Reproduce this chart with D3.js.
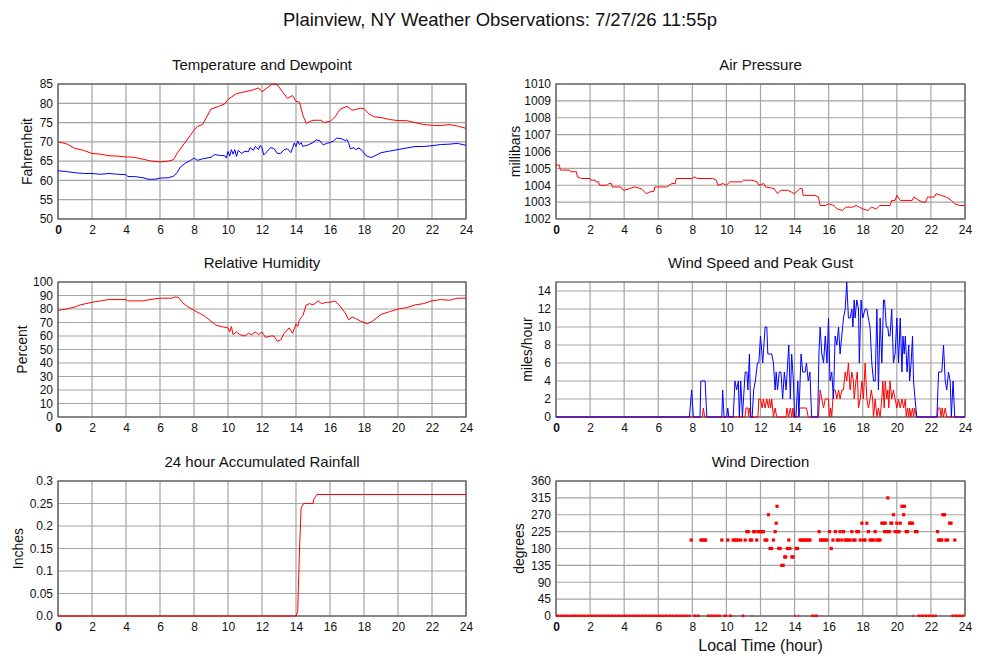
<html lang="en">
<head>
<style>
  body { margin: 0; background: #fff; }
  text { font-family: "Liberation Sans", Arial, sans-serif; fill: #111; }
</style>
</head>
<body>
<script type='text/javascript' src='https://d3js.org/d3.v7.min.js'></script>
<script>
    // ---- data: [hour, value] ----
    var hourTicks = [0, 2, 4, 6, 8, 10, 12, 14, 16, 18, 20, 22, 24];

    var temperature = [
        [0, 70], [0.5, 69.5], [1, 68.3], [1.5, 67.8], [2, 67], [2.5, 66.8], [3, 66.4], [3.5, 66.3],
        [4, 66.1], [4.5, 66], [5, 65.5], [5.5, 65], [6, 64.8], [6.5, 65], [6.8, 65.4], [7, 67],
        [7.5, 70], [8, 73], [8.2, 74], [8.5, 74.5], [9, 78.5], [9.5, 79.3], [9.8, 79.8], [10, 81],
        [10.5, 82.5], [11, 83], [11.5, 83.5], [11.8, 84], [12, 83], [12.3, 84], [12.6, 85], [12.9, 84.8],
        [13.2, 83], [13.5, 81.3], [13.8, 82], [14, 80.5], [14.2, 80.3], [14.4, 77], [14.6, 74.8],
        [14.8, 75.2], [15, 75.6], [15.5, 75.6], [15.6, 75], [16, 75.3], [16.3, 76.5], [16.6, 78.5],
        [17, 79.2], [17.3, 78.2], [17.8, 78.7], [18, 78.6], [18.3, 77.2], [18.6, 76.5], [19, 76.3],
        [19.5, 75.8], [20, 75.5], [20.5, 75.5], [21, 75], [21.5, 74.5], [22, 74.3], [22.5, 74.2],
        [23, 74.5], [23.5, 74.1], [24, 73.5]
    ];
    var dewpoint = [
        [0, 62.5], [0.5, 62.3], [1, 62], [1.5, 61.8], [2, 61.8], [2.5, 61.6], [3, 61.8], [3.5, 61.6],
        [4, 61.5], [4.1, 61], [4.5, 61], [5, 60.7], [5.3, 60.3], [5.7, 60.3], [6, 60.6], [6.5, 60.7],
        [6.8, 61.1], [7, 62], [7.2, 63.5], [7.5, 64.5], [7.8, 65.2], [8, 65.8], [8.2, 65.2], [8.5, 65.6],
        [9, 66], [9.2, 66.7], [9.5, 66.5], [9.8, 66.4], [9.9, 65.8], [10, 67.5], [10.1, 66.3], [10.2, 68],
        [10.3, 66.8], [10.4, 68], [10.5, 66.2], [10.6, 67.8], [10.8, 67], [11, 67.6], [11.2, 67.4],
        [11.3, 68.5], [11.5, 67.8], [11.6, 68.8], [11.8, 68], [11.9, 69.1], [12, 68.5], [12.1, 66.6],
        [12.3, 67.5], [12.5, 68.5], [12.7, 68.3], [12.9, 67], [13.1, 67], [13.3, 68], [13.5, 68.2],
        [13.7, 67.2], [13.9, 69.7], [14, 68.8], [14.1, 70.2], [14.2, 69.3], [14.3, 69.8], [14.4, 68.8],
        [14.7, 69.2], [15, 69.8], [15.2, 70.5], [15.4, 70.3], [15.6, 69.2], [15.8, 69.6], [16, 69.8],
        [16.2, 70.2], [16.4, 71], [16.7, 70.8], [16.9, 70.3], [17, 70.6], [17.1, 69.6], [17.2, 68.2],
        [17.4, 68.5], [17.5, 68], [17.7, 68.4], [17.9, 67.7], [18.1, 66.5], [18.4, 65.9], [18.6, 66.3],
        [19, 67.2], [19.5, 67.6], [20, 68], [20.5, 68.4], [21, 68.8], [21.5, 68.8], [22, 69],
        [22.5, 69.3], [23, 69.4], [23.5, 69.6], [24, 69.1]
    ];
    var pressure = [
        [0, 1005.2], [0.2, 1005.2], [0.25, 1004.9], [0.8, 1004.9], [0.85, 1004.8], [1.2, 1004.8],
        [1.25, 1004.5], [1.5, 1004.4], [2, 1004.4], [2.05, 1004.3], [2.3, 1004.3], [2.35, 1004.2],
        [2.5, 1004.2], [2.55, 1004], [3, 1004], [3.1, 1004.1], [3.25, 1004.1], [3.3, 1003.9],
        [3.8, 1003.9], [3.85, 1003.8], [4, 1003.7], [4.3, 1003.8], [4.6, 1003.9], [5, 1003.8],
        [5.3, 1003.5], [5.5, 1003.6], [5.75, 1003.65], [5.8, 1003.9], [6.5, 1003.9], [6.8, 1004.1],
        [7, 1004.1], [7.05, 1004.4], [8, 1004.4], [8.1, 1004.5], [8.3, 1004.4], [9.2, 1004.4],
        [9.4, 1004.3], [9.5, 1004], [9.8, 1004.1], [10, 1004], [10.2, 1004.2], [10.9, 1004.2],
        [11, 1004.3], [11.5, 1004.3], [11.8, 1004.2], [11.9, 1004], [12.2, 1004.1], [12.3, 1003.9],
        [12.8, 1003.8], [13, 1003.5], [13.2, 1003.7], [13.6, 1003.7], [13.8, 1003.6], [14, 1003.5],
        [14.3, 1003.8], [14.45, 1003.8], [14.5, 1003.4], [15.2, 1003.4], [15.4, 1003.3],
        [15.5, 1002.8], [15.8, 1002.8], [16, 1002.9], [16.3, 1002.8], [16.5, 1002.6], [16.8, 1002.5],
        [17, 1002.7], [17.4, 1002.7], [17.6, 1002.8], [17.8, 1002.7], [18, 1002.6], [18.3, 1002.5],
        [18.5, 1002.7], [18.8, 1002.6], [19, 1002.8], [19.6, 1002.8], [19.7, 1003.1], [19.9, 1003.1],
        [20, 1003.4], [20.2, 1003.1], [20.9, 1003.1], [21, 1003.3], [21.3, 1003.1], [21.5, 1003],
        [21.7, 1003], [21.8, 1003.3], [22.2, 1003.3], [22.3, 1003.5], [22.6, 1003.4], [22.9, 1003.3],
        [23.2, 1003.1], [23.4, 1002.9], [23.7, 1002.8], [24, 1002.8]
    ];
    var humidity = [
        [0, 79], [0.5, 80], [1, 81.5], [1.3, 83], [2, 85], [2.5, 86], [3, 87], [4, 87], [4.1, 86],
        [5, 86], [5.4, 87], [6, 88], [6.7, 88], [6.9, 89], [7.1, 88.5], [7.3, 85], [7.6, 82], [8, 79],
        [8.3, 77], [8.6, 75], [9, 71], [9.3, 68], [9.6, 67], [10, 66], [10.1, 63], [10.2, 67],
        [10.3, 61], [10.5, 63], [10.7, 61], [11, 60], [11.2, 62], [11.4, 61], [11.6, 63], [11.8, 61],
        [12, 63], [12.1, 61], [12.2, 59], [12.5, 60], [12.7, 60], [12.8, 58], [12.9, 56], [13.1, 57],
        [13.3, 62], [13.6, 66], [13.8, 62], [14, 69], [14.1, 67], [14.2, 72], [14.4, 75], [14.6, 83],
        [14.8, 84], [15, 83], [15.3, 86], [15.5, 84], [15.8, 85], [16, 85], [16.3, 86], [16.6, 82],
        [16.9, 77], [17.1, 72], [17.3, 74], [17.5, 73], [17.8, 71], [18, 70], [18.2, 69], [18.5, 71],
        [19, 76], [19.5, 78], [20, 80], [20.5, 81], [21, 83], [21.5, 84], [22, 86], [22.5, 87],
        [23, 86.5], [23.2, 87], [23.5, 88], [24, 88]
    ];
    var gust = [
        [0, 0], [7.83, 0], [7.96, 3], [8.06, 0], [8.45, 0], [8.5, 4], [8.75, 4], [8.85, 0], [9.73, 0],
        [9.78, 3], [9.86, 0], [10.02, 0], [10.08, 1], [10.14, 0], [10.4, 0], [10.5, 4], [10.6, 3],
        [10.7, 4], [10.76, 0], [10.84, 4], [10.94, 0], [11.1, 5], [11.2, 5], [11.26, 3], [11.35, 7],
        [11.43, 0], [11.5, -0.3], [11.6, 3], [11.7, 4], [11.82, 6], [11.9, 6], [12, 9], [12.13, 6],
        [12.27, 10], [12.37, 10], [12.43, 7], [12.66, 7], [12.76, 6], [12.86, 3], [12.92, 5],
        [13.0, 3], [13.1, 5], [13.2, 5], [13.3, 2], [13.4, 5], [13.5, 3], [13.66, 8], [13.75, 2],
        [13.83, 7], [13.93, 4], [14.0, 0], [14.08, 0], [14.19, 4], [14.25, 0], [14.38, 7], [14.48, 5],
        [14.62, 5], [14.7, 6], [14.8, 4], [14.9, 5], [15.0, 0], [15.36, 0], [15.43, 7], [15.5, 10],
        [15.6, 7], [15.7, 6], [15.8, 9], [15.9, 6], [15.99, 11], [16.08, 4], [16.18, 5], [16.28, 2],
        [16.38, 9], [16.48, 8], [16.58, 10], [16.67, 7], [16.77, 9], [16.87, 11], [16.97, 12],
        [17.06, 15], [17.16, 11], [17.26, 11], [17.36, 12], [17.42, 10], [17.5, 13], [17.55, 11],
        [17.65, 13], [17.75, 12], [17.8, 6], [17.9, 13], [18.0, 11], [18.14, 12], [18.24, 12],
        [18.33, 11], [18.43, 10], [18.53, 6], [18.63, 4], [18.73, 4], [18.83, 12], [18.92, 3],
        [19.02, 11], [19.12, 6], [19.22, 13], [19.28, 13], [19.38, 10], [19.47, 10], [19.52, 9],
        [19.6, 9], [19.7, 12], [19.8, 6], [19.9, 7], [20.0, 11], [20.1, 6], [20.2, 11], [20.3, 5],
        [20.36, 9], [20.43, 7], [20.5, 9], [20.6, 5], [20.7, 8], [20.75, 4], [20.84, 6], [20.92, 9],
        [20.98, 4], [21.07, 2], [21.17, 0], [22.35, 0], [22.45, 5], [22.64, 5], [22.74, 8],
        [22.84, 4], [22.93, 3], [23.03, 5], [23.13, 4], [23.2, 0], [23.3, 4], [23.4, 0], [24, 0]
    ];
    var speed = [
        [0, 0], [8.58, 0], [8.65, 1], [8.72, 0], [11.1, 0], [11.15, 1], [11.26, 1], [11.3, 0],
        [11.35, 1], [11.43, 0], [11.85, 0], [11.9, 2], [12.0, 2], [12.1, 1], [12.17, 2], [12.27, 1],
        [12.37, 2], [12.47, 1], [12.53, 2], [12.6, 1], [12.66, 2], [12.76, 0], [12.86, 1], [12.95, 0],
        [13.5, 0], [13.55, 1], [13.65, 0], [13.75, 1], [13.84, 0], [13.9, 1], [13.95, 0], [14.25, 0],
        [14.3, 1], [14.7, 1], [14.8, 0], [15.4, 0], [15.5, 3], [15.6, 2], [15.7, 1], [15.8, 2],
        [15.9, 2], [15.99, 2], [16.05, 0], [16.12, 1], [16.18, 0], [16.28, 3], [16.38, 3], [16.48, 2],
        [16.58, 3], [16.67, 2], [16.77, 3], [16.87, 3], [16.97, 5], [17.06, 4], [17.16, 6], [17.26, 3],
        [17.36, 5], [17.45, 4], [17.5, 2], [17.6, 4], [17.68, 5], [17.75, 1], [17.85, 2], [17.95, 4],
        [18.04, 2], [18.14, 6], [18.24, 2], [18.33, 1], [18.43, 2], [18.5, 3], [18.58, 2], [18.63, 0],
        [18.73, 2], [18.83, 0], [18.92, 1], [19.02, 0], [19.12, 2], [19.18, 4], [19.26, 1],
        [19.32, 4], [19.41, 2], [19.47, 3], [19.53, 1], [19.6, 4], [19.7, 2], [19.8, 3], [19.9, 2],
        [20.0, 1], [20.1, 2], [20.2, 1], [20.3, 2], [20.4, 1], [20.5, 2], [20.55, 0], [20.63, 1],
        [20.7, 0], [20.75, 1], [20.82, 0], [20.92, 1], [20.98, 0], [21.04, 1], [21.15, 0],
        [22.38, 0], [22.42, 1], [22.53, 1], [22.6, 0], [22.66, 1], [22.74, 0], [22.84, 1],
        [22.93, 0], [24, 0]
    ];
    var rainfall = [
        [0, 0], [14.0, 0], [14.1, 0.01], [14.2, 0.14], [14.3, 0.24], [14.45, 0.25], [15.0, 0.25],
        [15.05, 0.26], [15.15, 0.265], [15.23, 0.27], [24, 0.27]
    ];
    // hours with no wind (direction recorded as 0): [from, to]
    var calmPeriods = [
        [0, 7.9], [8.06, 8.45], [8.85, 9.7], [9.82, 10.05], [10.15, 10.35], [10.9, 11.05],
        [11.48, 11.52], [13.98, 14.05], [14.2, 14.25], [14.98, 15.38], [20.94, 21.0],
        [21.22, 22.35], [23.2, 24]
    ];
    var direction = [
        [7.93, 202.5], [8.5, 202.5], [8.6, 202.5], [8.7, 202.5], [8.78, 202.5], [9.73, 202.5],
        [10.08, 202.5], [10.4, 202.5], [10.5, 202.5], [10.6, 202.5], [10.7, 202.5], [10.84, 202.5],
        [11.1, 202.5], [11.2, 225], [11.28, 225], [11.4, 202.5], [11.48, 202.5], [11.6, 225],
        [11.68, 225], [11.78, 202.5], [11.88, 225], [11.97, 225], [12.05, 225], [12.17, 225],
        [12.27, 202.5], [12.37, 202.5], [12.47, 270], [12.56, 180], [12.65, 180], [12.76, 202.5],
        [12.86, 225], [12.92, 247.5], [12.97, 292.5], [13.07, 180], [13.15, 180], [13.25, 135],
        [13.33, 135], [13.42, 157.5], [13.48, 157.5], [13.58, 180], [13.66, 202.5], [13.72, 180],
        [13.84, 157.5], [13.92, 157.5], [14.1, 180], [14.17, 180], [14.32, 202.5], [14.42, 202.5],
        [14.52, 202.5], [14.62, 202.5], [14.72, 202.5], [14.82, 202.5], [14.9, 202.5],
        [15.44, 225], [15.52, 202.5], [15.6, 202.5], [15.7, 202.5], [15.8, 202.5], [15.9, 202.5],
        [16.05, 225], [16.15, 180], [16.25, 202.5], [16.4, 225], [16.5, 202.5], [16.58, 202.5],
        [16.67, 225], [16.77, 202.5], [16.87, 225], [16.97, 202.5], [17.06, 202.5], [17.16, 202.5],
        [17.26, 202.5], [17.36, 225], [17.45, 202.5], [17.55, 202.5], [17.65, 225], [17.75, 225],
        [17.85, 202.5], [17.95, 247.5], [18.04, 202.5], [18.14, 202.5], [18.24, 247.5], [18.33, 225],
        [18.43, 202.5], [18.53, 202.5], [18.63, 202.5], [18.73, 225], [18.83, 202.5], [18.92, 202.5],
        [19.02, 202.5], [19.12, 247.5], [19.22, 247.5], [19.28, 225], [19.32, 247.5], [19.41, 225],
        [19.47, 315], [19.57, 225], [19.65, 247.5], [19.7, 247.5], [19.8, 270], [19.9, 225],
        [20.0, 247.5], [20.05, 225], [20.13, 225], [20.2, 247.5], [20.3, 292.5], [20.4, 270],
        [20.45, 292.5], [20.55, 225], [20.63, 225], [20.75, 247.5], [20.82, 247.5], [20.92, 247.5],
        [21.1, 225], [21.18, 225], [22.39, 225], [22.45, 202.5], [22.55, 202.5], [22.64, 202.5],
        [22.7, 270], [22.8, 270], [22.88, 202.5], [22.98, 202.5], [23.1, 247.5], [23.18, 247.5],
        [23.4, 202.5]
    ];

    var width = 1000, height = 660;
    var svg = d3.select("body").append("svg")
        .attr("width", width)
        .attr("height", height);

    svg.append("text")
        .attr("x", 500).attr("y", 26)
        .attr("text-anchor", "middle")
        .style("font-size", "18.5px")
        .text("Plainview, NY Weather Observations: 7/27/26 11:55p");

    // draws one framed plot and returns its scales
    function panel(p) {
        var x = d3.scaleLinear().domain([0, 24]).range([p.left, p.right]);
        var y = d3.scaleLinear().domain(p.domain).range([p.bottom, p.top]);
        var g = svg.append("g");

        g.append("text")
            .attr("x", (p.left + p.right) / 2).attr("y", p.top - 14)
            .attr("text-anchor", "middle")
            .style("font-size", "15px")
            .text(p.title);

        g.append("text")
            .attr("transform", "translate(" + p.labelX + "," + (p.top + p.bottom) / 2 + ") rotate(-90)")
            .attr("text-anchor", "middle")
            .style("font-size", "14px")
            .text(p.label);

        // grid
        g.selectAll(".vg").data(hourTicks).enter().append("line")
            .attr("x1", x).attr("x2", x)
            .attr("y1", p.top).attr("y2", p.bottom)
            .attr("stroke", "#a4a4a4").attr("stroke-width", 1.2);
        g.selectAll(".hg").data(p.ticks).enter().append("line")
            .attr("x1", p.left).attr("x2", p.right)
            .attr("y1", y).attr("y2", y)
            .attr("stroke", "#a4a4a4").attr("stroke-width", 1.2);

        var yAxis = g.append("g")
            .attr("transform", "translate(" + p.left + ",0)")
            .call(d3.axisLeft(y).tickValues(p.ticks).tickFormat(p.format).tickSize(0).tickPadding(5));
        var xAxis = g.append("g")
            .attr("transform", "translate(0," + p.bottom + ")")
            .call(d3.axisBottom(x).tickValues(hourTicks).tickFormat(d3.format("d")).tickSize(0).tickPadding(6));
        [xAxis, yAxis].forEach(function (a) {
            a.select(".domain").remove();
            a.selectAll("text").style("font-size", "12px")
                .style("font-family", "'Liberation Sans', Arial, sans-serif").attr("fill", "#111");
        });
        xAxis.selectAll("text").filter(function (d) { return d === 0; }).style("font-weight", "bold");

        g.append("rect")
            .attr("x", p.left).attr("y", p.top)
            .attr("width", p.right - p.left).attr("height", p.bottom - p.top)
            .attr("fill", "none").attr("stroke", "#555").attr("stroke-width", 1.2);

        var clip = "clip" + p.id;
        svg.append("clipPath").attr("id", clip).append("rect")
            .attr("x", p.left).attr("y", p.top - 1)
            .attr("width", p.right - p.left).attr("height", p.bottom - p.top + 2);
        var plot = svg.append("g").attr("clip-path", "url(#" + clip + ")");
        return { x: x, y: y, plot: plot };
    }

    function drawLine(c, data, color) {
        var line = d3.line()
            .x(function (d) { return c.x(d[0]); })
            .y(function (d) { return c.y(d[1]); });
        c.plot.append("path")
            .datum(data)
            .attr("d", line)
            .attr("fill", "none")
            .attr("stroke", color)
            .attr("stroke-width", 1);
    }

    var L = 58, LR = 466, R = 556, RR = 965;
    var rows = [[84, 219], [282, 417], [481, 616]];

    var tempPanel = panel({ id: 1, left: L, right: LR, top: rows[0][0], bottom: rows[0][1],
        domain: [50, 85], ticks: d3.range(50, 86, 5), format: d3.format("d"),
        title: "Temperature and Dewpoint", label: "Fahrenheit", labelX: 32 });
    drawLine(tempPanel, temperature, "#ff0000");
    drawLine(tempPanel, dewpoint, "#0000ff");

    var presPanel = panel({ id: 2, left: R, right: RR, top: rows[0][0], bottom: rows[0][1],
        domain: [1002, 1010], ticks: d3.range(1002, 1011, 1), format: d3.format("d"),
        title: "Air Pressure", label: "millibars", labelX: 520 });
    drawLine(presPanel, pressure, "#ff0000");

    var rhPanel = panel({ id: 3, left: L, right: LR, top: rows[1][0], bottom: rows[1][1],
        domain: [0, 100], ticks: d3.range(0, 101, 10), format: d3.format("d"),
        title: "Relative Humidity", label: "Percent", labelX: 27 });
    drawLine(rhPanel, humidity, "#ff0000");

    var windPanel = panel({ id: 4, left: R, right: RR, top: rows[1][0], bottom: rows[1][1],
        domain: [0, 15], ticks: d3.range(0, 15, 2), format: d3.format("d"),
        title: "Wind Speed and Peak Gust", label: "miles/hour", labelX: 532 });
    drawLine(windPanel, speed, "#ff0000");
    drawLine(windPanel, gust, "#0000ff");

    var rainTicks = [0, 0.05, 0.1, 0.15, 0.2, 0.25, 0.3];
    var rainPanel = panel({ id: 5, left: L, right: LR, top: rows[2][0], bottom: rows[2][1],
        domain: [0, 0.3], ticks: rainTicks,
        format: function (d) { return d === 0 ? "0.0" : String(d); },
        title: "24 hour Accumulated Rainfall", label: "Inches", labelX: 23 });
    drawLine(rainPanel, rainfall, "#ff0000");

    var dirPanel = panel({ id: 6, left: R, right: RR, top: rows[2][0], bottom: rows[2][1],
        domain: [0, 360], ticks: d3.range(0, 361, 45), format: d3.format("d"),
        title: "Wind Direction", label: "degrees", labelX: 524 });
    dirPanel.plot.selectAll(".calm").data(calmPeriods).enter().append("line")
        .attr("x1", function (d) { return dirPanel.x(d[0]); })
        .attr("x2", function (d) { return dirPanel.x(d[1]); })
        .attr("y1", dirPanel.y(0)).attr("y2", dirPanel.y(0))
        .attr("stroke", "#ff0000").attr("stroke-width", 3)
        .attr("stroke-dasharray", "3,0.4");
    dirPanel.plot.selectAll(".dir").data(direction).enter().append("rect")
        .attr("x", function (d) { return dirPanel.x(d[0]) - 1.6; })
        .attr("y", function (d) { return dirPanel.y(d[1]) - 1.6; })
        .attr("width", 3.2).attr("height", 3.2)
        .attr("fill", "#ff0000");

    svg.append("text")
        .attr("x", (R + RR) / 2).attr("y", 651)
        .attr("text-anchor", "middle")
        .style("font-size", "16px")
        .text("Local Time (hour)");
</script>
</body>
</html>
